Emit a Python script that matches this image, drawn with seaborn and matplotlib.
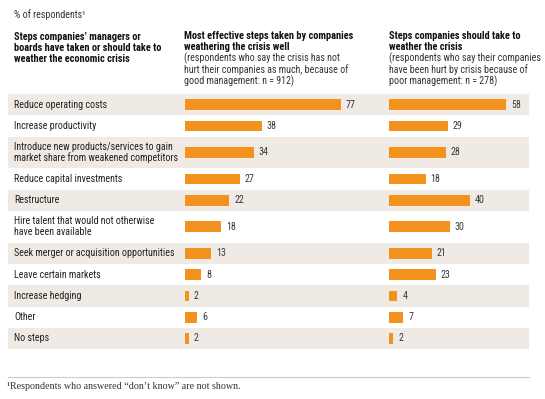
import matplotlib
matplotlib.use("Agg")
import matplotlib.pyplot as plt
import seaborn as sns
import numpy as np
import pandas as pd

# data
steps = [
    "Reduce operating costs",
    "Increase productivity",
    "Introduce new products/services to gain\nmarket share from weakened competitors",
    "Reduce capital investments",
    "Restructure",
    "Hire talent that would not otherwise\nhave been available",
    "Seek merger or acquisition opportunities",
    "Leave certain markets",
    "Increase hedging",
    "Other",
    "No steps",
]
weathering_well = [77, 38, 34, 27, 22, 18, 13, 8, 2, 6, 2]
hurt_by_crisis = [58, 29, 28, 18, 40, 30, 21, 23, 4, 7, 2]

subtitle = "% of respondents\u00b9"
head_left = ["Steps companies\u2019 managers or",
             "boards have taken or should take to",
             "weather the economic crisis"]
head_mid_bold = ["Most effective steps taken by companies",
                 "weathering the crisis well"]
head_mid_note = ["(respondents who say the crisis has not",
                 "hurt their companies as much, because of",
                 "good management: n = 912)"]
head_right_bold = ["Steps companies should take to",
                   "weather the crisis"]
head_right_note = ["(respondents who say their companies",
                   "have been hurt by crisis because of",
                   "poor management: n = 278)"]
footnote = "\u00b9Respondents who answered \u201cdon\u2019t know\u201d are not shown."

ORANGE = "#F4921F"
BAND = "#EFEAE4"
SANS = ["Roboto Condensed", "Fira Sans Condensed", "DejaVu Sans"]
FS = 7.2
FS_BOLD = 7.5

sns.set_style("white")
plt.rcParams["font.family"] = SANS

# layout in pixels
W, H = 545, 399
top = 94
row_h = np.array([21.3 + 10.4 * s.count("\n") for s in steps])
edges = top + np.concatenate([[0], np.cumsum(row_h)])
centers = (edges[:-1] + edges[1:]) / 2
bottom = edges[-1]
PX = 2.02  # pixels per percentage point

fig = plt.figure(figsize=(W / 100, H / 100), dpi=100)
bg = fig.add_axes([0, 0, 1, 1])
bg.set_xlim(0, W)
bg.set_ylim(H, 0)
bg.axis("off")

for i in range(0, len(steps), 2):
    bg.axhspan(edges[i], edges[i + 1], xmin=8 / W, xmax=529 / W, color=BAND, lw=0)


def put_lines(x, y0, lines, step=11.3, **kw):
    for j, ln in enumerate(lines):
        bg.text(x, y0 + j * step, ln, va="center", ha="left", **kw)


bg.text(14, 15, subtitle, va="center", fontsize=FS, color="#333333")
put_lines(14, 36.5, head_left, fontsize=FS_BOLD, fontweight="bold", color="#111111")
put_lines(184, 36, head_mid_bold, fontsize=FS_BOLD, fontweight="bold", color="#111111")
put_lines(184, 36 + 2 * 11.3, head_mid_note, fontsize=FS, color="#333333")
put_lines(389, 36, head_right_bold, fontsize=FS_BOLD, fontweight="bold", color="#111111")
put_lines(389, 36 + 2 * 11.3, head_right_note, fontsize=FS, color="#333333")

for i, s in enumerate(steps):
    lines = s.split("\n")
    put_lines(14, centers[i] - (len(lines) - 1) * 11 / 2, lines, step=11,
              fontsize=FS, color="#222222")

df = pd.DataFrame({"step": steps, "y": centers,
                   "well": weathering_well, "hurt": hurt_by_crisis})
bar_w = 10.7 / np.min(np.diff(centers))


def panel(x0, x1, col):
    ax = fig.add_axes([x0 / W, (H - bottom) / H, (x1 - x0) / W, (bottom - top) / H])
    sns.barplot(data=df, x=col, y="y", orient="h", native_scale=True,
                width=bar_w, color=ORANGE, saturation=1, errorbar=None,
                linewidth=0, ax=ax)
    ax.set_xlim(0, (x1 - x0) / PX)
    ax.set_ylim(bottom, top)
    ax.bar_label(ax.containers[0], padding=3.5, fontsize=FS, color="#3a3a3a")
    ax.set_facecolor("none")
    ax.axis("off")
    return ax


panel(185, 360, "well")
panel(389.3, 529, "hurt")

bg.axhline(376.7, xmin=8 / W, xmax=529 / W, color="#cccccc", lw=0.8)
bg.text(7, 386.7, footnote, va="center", fontsize=7.2, color="#333333",
        family=["Liberation Serif", "DejaVu Serif"])

fig.savefig("out.png", dpi=100)
